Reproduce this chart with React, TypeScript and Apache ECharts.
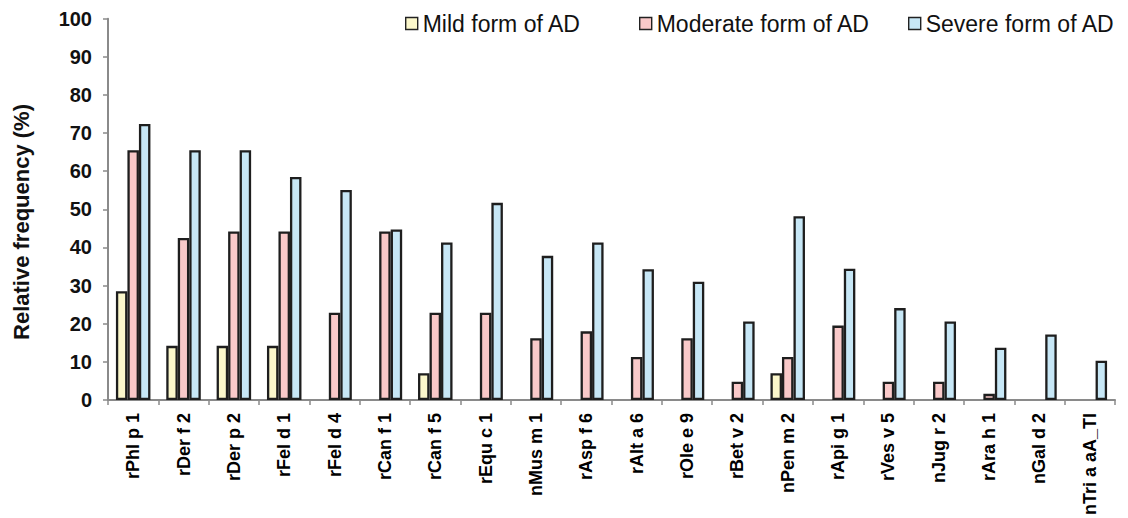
import React, { useEffect, useRef } from "react";
import * as echarts from "echarts";

const categories = [
  "rPhl p 1", "rDer f 2", "rDer p 2", "rFel d 1", "rFel d 4", "rCan f 1", "rCan f 5",
  "rEqu c 1", "nMus m 1", "rAsp f 6", "rAlt a 6", "rOle e 9", "rBet v 2", "nPen m 2",
  "rApi g 1", "rVes v 5", "nJug r 2", "rAra h 1", "nGal d 2", "nTri a aA_TI",
];
const mild = [28.5, 14.2, 14.2, 14.2, 0, 0, 7.0, 0, 0, 0, 0, 0, 0, 7.0, 0, 0, 0, 0, 0, 0];
const moderate = [65.5, 42.5, 44.2, 44.2, 22.9, 44.2, 22.9, 22.9, 16.2, 18.0, 11.3, 16.2, 4.8, 11.3, 19.5, 4.8, 4.8, 1.6, 0, 0];
const severe = [72.4, 65.5, 65.5, 58.5, 55.1, 44.7, 41.3, 51.7, 37.8, 41.3, 34.3, 31.0, 20.6, 48.2, 34.4, 24.1, 20.6, 13.7, 17.2, 10.3];
const yTicks = { min: 0, max: 100, interval: 10 };
const seriesNames = ["Mild form of AD", "Moderate form of AD", "Severe form of AD"];
const colors = ["#FBF7CB", "#F9C9C9", "#C7E7F6"];

const FONT = "'Liberation Sans', Arial, sans-serif";

export default function App() {
  const ref = useRef<HTMLDivElement>(null);
  useEffect(() => {
    if (!ref.current) return;
    const chart = echarts.init(ref.current, null, { renderer: "svg" });
    const mk = (vals: number[]) =>
      vals.map((v) => (v === 0 ? { value: 0, itemStyle: { borderWidth: 0 } } : v));
    const legendLefts = [405, 639, 908];
    chart.setOption({
      animation: false,
      textStyle: { fontFamily: FONT },
      grid: { left: 108, right: 13, top: 18.7, bottom: 116.3, containLabel: false },
      legend: seriesNames.map((n, i) => ({
        data: [n],
        left: legendLefts[i],
        top: 12,
        icon: "rect",
        itemWidth: 12,
        itemHeight: 12,
        itemGap: 0,
        padding: 0,
        textStyle: { fontSize: 23, color: "#111", fontFamily: FONT },
        itemStyle: { borderColor: "#222", borderWidth: 1.4 },
      })),
      xAxis: {
        type: "category",
        data: categories,
        axisLine: { lineStyle: { color: "#8a8a8a", width: 2 } },
        axisTick: { show: true, length: 5, lineStyle: { color: "#8a8a8a", width: 1.5 } },
        axisLabel: {
          rotate: 90,
          interval: 0,
          margin: 13,
          fontSize: 18,
          fontWeight: "bold",
          color: "#000",
          fontFamily: FONT,
        },
      },
      yAxis: {
        type: "value",
        min: yTicks.min,
        max: yTicks.max,
        interval: yTicks.interval,
        splitLine: { show: false },
        axisLine: { show: true, lineStyle: { color: "#8a8a8a", width: 2 } },
        axisTick: { show: true, length: 5, lineStyle: { color: "#8a8a8a", width: 1.5 } },
        axisLabel: { fontSize: 20, fontWeight: "bold", color: "#111", margin: 16, fontFamily: FONT },
      },
      graphic: [
        {
          type: "text",
          x: 21,
          y: 222,
          rotation: Math.PI / 2,
          style: {
            text: "Relative frequency (%)",
            fontSize: 22,
            fontWeight: "bold",
            fill: "#111",
            fontFamily: FONT,
            align: "center",
            verticalAlign: "middle",
          },
        },
      ],
      series: [mild, moderate, severe].map((vals, i) => ({
        name: seriesNames[i],
        type: "bar",
        data: mk(vals),
        barWidth: 11.5,
        barGap: "0%",
        itemStyle: { color: colors[i], borderColor: "#1e1e1e", borderWidth: 2.3 },
      })),
    });
    return () => chart.dispose();
  }, []);
  return <div ref={ref} style={{ width: 1128, height: 518, position: "absolute", left: 0, top: 0 }} />;
}
